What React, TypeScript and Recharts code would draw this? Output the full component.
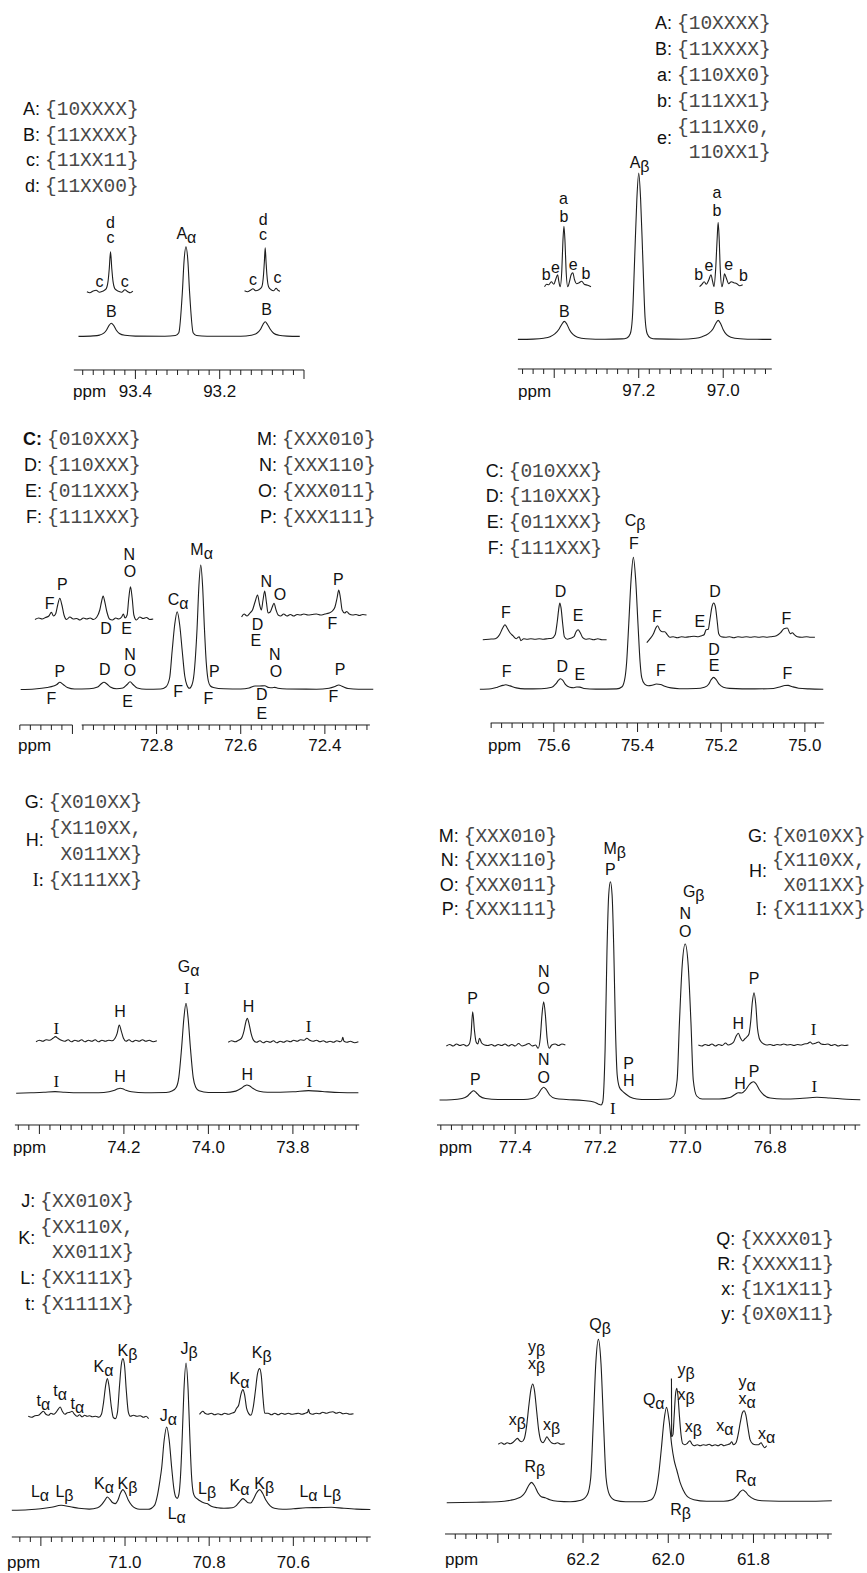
import React from 'react';
import { LineChart, Line, XAxis, YAxis, ReferenceDot, ReferenceLine } from 'recharts';

type Pt = [number, number];
type Lbl = [number, number, string];

const SANS = '"Liberation Sans", Arial, Helvetica, sans-serif';
const SERIF = '"Liberation Serif", "Times New Roman", serif';
const MONO = '"Liberation Mono", "Courier New", monospace';
const INK = '#1e1e1e';
const MONO_FS = 19.5;

// ================= Panel 1 : 93 ppm =================
const p1Main: Pt[] = [[93.535,0.3],[93.5,0.8],[93.485,1.6],[93.475,3.5],[93.468,7],[93.462,11.5],[93.457,13.4],[93.452,11.5],[93.446,7],[93.438,3.2],[93.425,1.4],[93.4,0.6],[93.33,0.4],[93.305,1.2],[93.297,4],[93.2885,45],[93.2845,76],[93.28,90],[93.2755,76],[93.2715,45],[93.263,4],[93.255,1.2],[93.23,0.5],[93.15,0.5],[93.125,1.5],[93.112,3.5],[93.103,7.5],[93.097,12.5],[93.092,15],[93.087,12.5],[93.08,7.5],[93.072,3.5],[93.06,1.5],[93.04,0.6],[93.01,0.3]];
const p1InsetL: Pt[] = [[93.515,45],[93.508,44],[93.5,45.8],[93.493,46.5],[93.486,44.5],[93.478,45.5],[93.47,47.5],[93.465,55],[93.462,68],[93.459,85],[93.456,68],[93.453,55],[93.448,47.5],[93.44,45.5],[93.432,44.5],[93.425,47],[93.418,45],[93.412,44],[93.406,45.5]];
const p1InsetR: Pt[] = [[93.141,46],[93.134,45],[93.127,46.5],[93.121,48],[93.115,46],[93.107,47],[93.1,50],[93.096,62],[93.094,75],[93.092,89],[93.09,75],[93.088,62],[93.084,50],[93.078,47],[93.072,46],[93.066,48.5],[93.062,46.5],[93.057,45.5]];
const p1Labels: Lbl[] = [[93.459,114,'d'],[93.459,99.5,'c'],[93.485,55,'c'],[93.425,55,'c'],[93.457,25,'B'],[93.279,102.7,'Aα'],[93.097,117,'d'],[93.097,101.7,'c'],[93.121,56.7,'c'],[93.063,59.4,'c'],[93.089,27.4,'B']];
const p1Majors = [93.4, 93.2, 93.0];
const p1TickLabels = [93.4, 93.2];

// ================= Panel 2 : 97 ppm =================
const p2Main: Pt[] = [[97.486,0.3],[97.45,0.6],[97.425,1.5],[97.41,3],[97.398,6],[97.388,11],[97.382,15.5],[97.376,18.3],[97.37,15.5],[97.364,10],[97.355,5],[97.345,2.5],[97.325,1],[97.28,0.5],[97.24,0.8],[97.228,1.8],[97.22,6],[97.215,22],[97.2095,83],[97.2045,140],[97.2,166.7],[97.1955,140],[97.1905,83],[97.185,22],[97.18,6],[97.172,1.8],[97.16,0.8],[97.1,0.5],[97.065,1.5],[97.05,3],[97.035,6],[97.024,11],[97.018,16],[97.012,19.3],[97.006,16],[97.0,10],[96.992,5],[96.982,2.5],[96.96,1],[96.92,0.4],[96.886,0.3]];
const p2InsetL: Pt[] = [[97.423,53],[97.418,55.5],[97.413,55],[97.407,58],[97.401,55.5],[97.396,61],[97.392,65],[97.389,58],[97.386,53],[97.382,70],[97.3795,98],[97.377,113.3],[97.3745,98],[97.372,70],[97.368,53],[97.364,58],[97.36,65],[97.356,67],[97.352,60],[97.347,56],[97.341,57],[97.335,58.5],[97.329,55.5],[97.321,54.5],[97.313,53]];
const p2InsetR: Pt[] = [[97.056,53],[97.051,55],[97.045,58],[97.04,55.5],[97.034,60],[97.029,65],[97.025,58],[97.022,53],[97.018,70],[97.0145,100],[97.012,117.3],[97.0095,100],[97.007,70],[97.003,53],[97.0,58],[96.997,66],[96.993,62],[96.987,56],[96.981,58],[96.975,57],[96.968,56],[96.961,54],[96.954,55]];
const p2Labels: Lbl[] = [[97.378,141,'a'],[97.377,122.7,'b'],[97.419,65,'b'],[97.397,71.7,'e'],[97.355,75,'e'],[97.325,66,'b'],[97.376,28.3,'B'],[97.198,177,'Aβ'],[97.015,147.3,'a'],[97.015,129.3,'b'],[97.058,65,'b'],[97.034,74,'e'],[96.987,75,'e'],[96.952,64,'b'],[97.009,30.7,'B']];
const p2Majors = [97.4, 97.2, 97.0];
const p2TickLabels = [97.2, 97.0];

// ================= Panel 3 : 72 ppm =================
const p3Main: Pt[] = [[73.123,0.5],[73.09,1],[73.06,2.5],[73.045,4],[73.037,5.5],[73.03,7.7],[73.022,5.5],[73.012,2.5],[72.995,1],[72.96,1.2],[72.94,3],[72.932,6],[72.925,7.7],[72.918,6],[72.91,3],[72.895,1.2],[72.88,2],[72.87,5.5],[72.863,8.3],[72.856,5.5],[72.846,2],[72.825,0.8],[72.79,1],[72.778,3],[72.769,12],[72.763,39],[72.757,65],[72.751,78.3],[72.745,65],[72.739,39],[72.733,14],[72.728,5],[72.722,1.7],[72.716,5],[72.711,16],[72.7037,62],[72.6994,104],[72.695,125],[72.6906,104],[72.6863,62],[72.682,28],[72.677,9],[72.672,4],[72.665,2.5],[72.64,1.2],[72.6,1],[72.58,2],[72.566,4],[72.555,4],[72.543,4.2],[72.533,2.5],[72.525,2.3],[72.519,2.6],[72.512,1.8],[72.49,1],[72.42,0.8],[72.39,1.8],[72.376,3.5],[72.367,5],[72.358,3.5],[72.345,1.5],[72.32,0.8],[72.285,0.8]];
const p3InsetL: Pt[] = [[73.089,70.5],[73.08,72],[73.072,71],[73.064,72.5],[73.056,74],[73.05,77.7],[73.045,74],[73.04,76],[73.035,85],[73.03,91.7],[73.025,85],[73.02,75],[73.014,70.5],[73.006,73],[72.998,71],[72.99,71.5],[72.982,70],[72.974,72],[72.966,71],[72.958,72],[72.95,70.5],[72.942,73],[72.935,80],[72.931,88],[72.927,94],[72.923,88],[72.918,78],[72.912,71],[72.905,70],[72.897,72],[72.89,71],[72.883,73],[72.879,76],[72.875,72],[72.87,75],[72.866,92],[72.862,103.3],[72.858,92],[72.854,75],[72.848,70],[72.84,73],[72.832,71.5],[72.824,72.5],[72.816,70.5],[72.808,71]];
const p3InsetR: Pt[] = [[72.598,73],[72.592,76],[72.585,74],[72.578,77],[72.572,80],[72.566,88],[72.56,95],[72.555,85],[72.551,80],[72.547,90],[72.543,99],[72.539,88],[72.535,77],[72.53,78],[72.525,83],[72.521,86.7],[72.516,80],[72.511,75],[72.505,74],[72.498,76],[72.49,74],[72.482,75.5],[72.474,74],[72.466,75.5],[72.458,75],[72.45,76],[72.44,75],[72.43,75.5],[72.42,76],[72.41,75],[72.4,76],[72.39,77],[72.382,79],[72.376,83],[72.371,92],[72.367,100],[72.363,92],[72.359,80],[72.353,77],[72.348,78.5],[72.342,76],[72.334,75],[72.326,75.5],[72.318,74.5],[72.31,75.5],[72.301,75]];
const p3Labels: Lbl[] = [[72.865,135,'N'],[72.863,118.3,'O'],[73.024,105,'P'],[73.054,86.7,'F'],[72.92,61.7,'D'],[72.871,61,'E'],[72.749,90,'Cα'],[72.693,140,'Mα'],[72.539,108.3,'N'],[72.507,95,'O'],[72.56,65.7,'D'],[72.564,49,'E'],[72.368,110.7,'P'],[72.382,66.7,'F'],[73.03,18.3,'P'],[73.05,-8.3,'F'],[72.923,20,'D'],[72.863,35,'N'],[72.863,19,'O'],[72.869,-11.7,'E'],[72.749,-1.7,'F'],[72.663,18.3,'P'],[72.677,-9,'F'],[72.519,35,'N'],[72.516,18.3,'O'],[72.55,-5,'D'],[72.55,-23.3,'E'],[72.364,20,'P'],[72.38,-6.7,'F']];
const p3Majors = [73.0, 72.8, 72.6, 72.4];
const p3TickLabels = [72.8, 72.6, 72.4];

// ================= Panel 4 : 75 ppm =================
const p4Main: Pt[] = [[75.777,0.5],[75.75,1],[75.735,2.5],[75.722,4.3],[75.715,5],[75.705,3.8],[75.69,1.8],[75.67,0.8],[75.63,1],[75.605,2.5],[75.595,6],[75.589,9.5],[75.584,11],[75.579,9.5],[75.572,5],[75.562,2.5],[75.552,2],[75.545,2.7],[75.538,2.6],[75.528,1.2],[75.5,0.6],[75.45,0.8],[75.437,3],[75.43,12],[75.426,28],[75.421,66],[75.4155,110],[75.41,132.3],[75.4045,110],[75.399,66],[75.394,28],[75.39,12],[75.383,5.5],[75.375,4],[75.365,4.5],[75.355,5.7],[75.345,5.2],[75.335,3.5],[75.32,1.8],[75.3,1],[75.26,1.2],[75.24,2.5],[75.23,5.5],[75.224,10],[75.218,12.3],[75.212,10],[75.205,5.5],[75.195,2.5],[75.18,1.3],[75.12,0.8],[75.075,1.2],[75.058,3],[75.048,4.2],[75.04,4.3],[75.03,3],[75.015,1.5],[74.99,0.8],[74.956,0.5]];
const p4InsetL: Pt[] = [[75.77,50],[75.755,50.5],[75.74,51],[75.73,55],[75.722,62],[75.717,65],[75.712,62],[75.705,57],[75.698,54],[75.69,51],[75.683,53],[75.679,49],[75.672,51],[75.664,50.5],[75.655,51],[75.645,50.5],[75.635,51],[75.625,50.5],[75.615,51],[75.605,51.5],[75.597,55],[75.592,68],[75.588,82],[75.586,86.7],[75.583,82],[75.579,66],[75.575,53],[75.568,50.5],[75.56,51.5],[75.552,53],[75.547,58],[75.542,60],[75.537,57],[75.531,52],[75.524,50.5],[75.515,51],[75.505,50],[75.495,51],[75.485,50],[75.474,50]];
const p4InsetR: Pt[] = [[75.378,47],[75.37,51],[75.362,56],[75.356,62],[75.352,64],[75.347,60],[75.341,58],[75.335,58],[75.329,55],[75.323,52.5],[75.315,53],[75.305,52],[75.295,53],[75.285,52.5],[75.275,53],[75.265,53.5],[75.255,53],[75.247,54],[75.241,55],[75.236,60],[75.231,60.5],[75.227,70],[75.222,83],[75.218,86.7],[75.214,83],[75.21,70],[75.206,56],[75.2,53],[75.19,52.5],[75.18,53],[75.17,52],[75.16,53],[75.15,52.5],[75.14,53],[75.13,52.5],[75.12,53],[75.11,52.5],[75.1,53],[75.09,52.5],[75.08,53],[75.068,54],[75.058,57],[75.05,61],[75.042,61.7],[75.035,56],[75.03,57],[75.025,55],[75.018,53],[75.008,52.5],[74.996,53],[74.986,52.5],[74.976,52.5]];
const p4Labels: Lbl[] = [[75.406,169,'Cβ'],[75.409,146,'F'],[75.715,76.7,'F'],[75.584,97.7,'D'],[75.542,74.3,'E'],[75.354,73.3,'F'],[75.251,68.3,'E'],[75.215,97.7,'D'],[75.044,71,'F'],[75.713,18.3,'F'],[75.58,23.3,'D'],[75.538,15,'E'],[75.344,19,'F'],[75.217,40,'D'],[75.217,24.3,'E'],[75.042,15.7,'F']];
const p4Majors = [75.6, 75.4, 75.2, 75.0];
const p4TickLabels = [75.6, 75.4, 75.2, 75.0];

// ================= Panel 5 : 74 ppm =================
const p5Main: Pt[] = [[74.455,0],[74.42,0.5],[74.39,1],[74.363,1.7],[74.34,1],[74.3,0.5],[74.26,0.5],[74.235,1.5],[74.222,3],[74.214,4.5],[74.209,5],[74.203,4.5],[74.195,3],[74.182,1.5],[74.15,0.6],[74.1,0.8],[74.085,2.5],[74.076,6],[74.07,16],[74.0635,45],[74.058,75],[74.053,90],[74.048,75],[74.0425,45],[74.036,16],[74.03,6],[74.022,2.5],[74.0,0.8],[73.96,0.8],[73.935,2.2],[73.922,5],[73.914,7.5],[73.909,8.3],[73.903,7.5],[73.895,5],[73.88,2],[73.86,1],[73.8,1.5],[73.763,2.7],[73.73,1.8],[73.69,0.8],[73.645,0.5]];
const p5InsetL: Pt[] = [[74.408,51.5],[74.4,53],[74.392,52],[74.384,53.5],[74.376,53],[74.368,55],[74.362,56.7],[74.356,55],[74.348,53],[74.34,52],[74.332,53.5],[74.324,51.5],[74.316,53],[74.308,52],[74.3,53.5],[74.292,51.5],[74.284,53],[74.276,52],[74.268,53.5],[74.26,51.5],[74.252,53],[74.244,52],[74.236,53],[74.228,52.5],[74.221,55],[74.216,60],[74.211,68.3],[74.206,62],[74.201,55],[74.195,52],[74.188,53.5],[74.18,51.5],[74.172,53],[74.164,52],[74.156,53.5],[74.148,52],[74.14,53],[74.131,51.5],[74.122,52.5]];
const p5InsetR: Pt[] = [[73.953,51],[73.945,52.5],[73.937,51.5],[73.929,53],[73.922,55],[73.916,62],[73.911,72],[73.908,75],[73.904,70],[73.899,60],[73.893,53],[73.886,51],[73.878,52.5],[73.87,50.5],[73.862,52],[73.854,51],[73.846,52.5],[73.838,50.5],[73.83,52],[73.822,51],[73.814,52.5],[73.806,51.5],[73.798,53],[73.79,52],[73.782,53.5],[73.774,53],[73.767,55],[73.76,53],[73.752,52],[73.744,53],[73.736,51.5],[73.728,52.5],[73.72,51],[73.712,52],[73.704,51],[73.696,52.5],[73.688,51.5],[73.684,53],[73.682,56],[73.679,52],[73.672,51],[73.664,52],[73.654,50.5],[73.645,51.5]];
const p5Labels: Lbl[] = [[74.047,126.7,'Gα'],[74.051,105,'I'],[74.36,65,'I'],[74.209,81.7,'H'],[73.905,86.7,'H'],[73.763,66.7,'I'],[74.36,11.7,'I'],[74.209,16.7,'H'],[73.908,18.3,'H'],[73.761,11.7,'I']];
const p5Majors = [74.4, 74.2, 74.0, 73.8];
const p5TickLabels = [74.2, 74.0, 73.8];

// ================= Panel 6 : 77 ppm =================
const p6Main: Pt[] = [[77.578,0],[77.55,0.3],[77.525,1.5],[77.512,4],[77.504,7.5],[77.498,9.3],[77.492,7.5],[77.484,4],[77.47,1.5],[77.44,0.5],[77.38,0.5],[77.36,1.5],[77.347,5],[77.338,11],[77.333,12.7],[77.328,11],[77.319,5],[77.305,1.5],[77.28,0.5],[77.24,-0.5],[77.215,-2],[77.205,-4],[77.198,-5],[77.194,-2],[77.1885,50],[77.184,150],[77.18,205],[77.176,218.3],[77.172,205],[77.168,150],[77.164,70],[77.16,25],[77.155,13],[77.148,9],[77.14,6],[77.13,3],[77.114,1],[77.09,0.5],[77.04,1],[77.027,4],[77.019,20],[77.0135,78],[77.007,135],[77.0,156],[76.993,135],[76.9865,78],[76.981,20],[76.973,4],[76.96,1],[76.92,1],[76.895,2.5],[76.883,5.5],[76.875,7.3],[76.867,7],[76.858,10],[76.85,15],[76.844,17.5],[76.839,18.3],[76.833,16],[76.825,10],[76.815,5],[76.8,2],[76.77,1],[76.73,1.5],[76.69,2.7],[76.66,2],[76.62,0.8],[76.588,0.3]];
const p6InsetL: Pt[] = [[77.562,54],[77.554,55.5],[77.546,54],[77.538,56],[77.53,54.5],[77.522,55.5],[77.514,54],[77.508,56],[77.504,65],[77.5,88.3],[77.496,70],[77.492,58],[77.488,56],[77.484,61.7],[77.479,57],[77.472,55],[77.464,54.5],[77.456,55.5],[77.448,54],[77.44,55.5],[77.432,54.5],[77.424,56],[77.416,54],[77.408,55.5],[77.4,54],[77.392,56.5],[77.384,54],[77.376,55],[77.368,56.5],[77.36,54],[77.352,55],[77.346,51.7],[77.341,62],[77.337,85],[77.333,98.3],[77.329,85],[77.325,62],[77.32,51.7],[77.314,55],[77.306,56],[77.298,54.5],[77.29,56],[77.282,55]];
const p6InsetR: Pt[] = [[76.969,55],[76.961,54],[76.953,55.5],[76.945,54.5],[76.937,56],[76.929,54],[76.921,55.5],[76.913,54.5],[76.905,57],[76.899,55],[76.892,56],[76.886,58],[76.88,64],[76.875,66.7],[76.87,62],[76.865,59],[76.86,61],[76.855,63],[76.85,66],[76.846,78],[76.842,98],[76.838,107.3],[76.834,96],[76.83,72],[76.826,62],[76.821,58],[76.815,56],[76.808,55],[76.8,55.5],[76.792,54.5],[76.784,55.5],[76.776,55],[76.768,56],[76.76,55],[76.752,55.5],[76.744,54.5],[76.736,55.5],[76.728,55],[76.72,56],[76.712,56.5],[76.706,58],[76.7,56],[76.692,57],[76.686,58],[76.68,56],[76.672,55.5],[76.664,56],[76.656,54.5],[76.648,55.5],[76.64,54],[76.632,55],[76.624,54.5],[76.616,55]];
const p6Labels: Lbl[] = [[77.166,251,'Mβ'],[77.176,230,'P'],[76.98,208,'Gβ'],[77.0,186,'N'],[77.0,168.3,'O'],[77.5,101.7,'P'],[77.333,128.3,'N'],[77.333,111.7,'O'],[76.838,121.7,'P'],[76.875,76.7,'H'],[76.698,70,'I'],[77.494,20.7,'P'],[77.333,40,'N'],[77.333,22.7,'O'],[77.133,36.7,'P'],[77.133,19.3,'H'],[77.17,-8.3,'I'],[76.871,16.7,'H'],[76.838,28.3,'P'],[76.696,13.3,'I']];
const p6Majors = [77.4, 77.2, 77.0, 76.8];
const p6TickLabels = [77.4, 77.2, 77.0, 76.8];

// ================= Panel 7 : 71 ppm =================
const p7Main: Pt[] = [[71.269,0],[71.23,0.5],[71.2,1.5],[71.175,3],[71.152,5],[71.13,3.5],[71.11,2],[71.085,1.2],[71.065,2.5],[71.055,6],[71.048,10],[71.042,13.3],[71.036,11],[71.029,7.5],[71.023,6.7],[71.017,10],[71.011,17],[71.005,20.7],[70.999,17],[70.992,10],[70.984,5],[70.975,2],[70.965,1],[70.945,1],[70.93,5],[70.923,15],[70.917,30],[70.913,42],[70.907,70],[70.901,83.3],[70.895,70],[70.889,42],[70.884,22],[70.879,13],[70.876,12],[70.872,16],[70.868,35],[70.864,74],[70.86,120],[70.855,147.3],[70.85,120],[70.846,74],[70.842,35],[70.838,18],[70.833,13],[70.829,11.7],[70.822,9.5],[70.813,7.5],[70.805,6.7],[70.795,4],[70.78,2.5],[70.765,2],[70.745,2.5],[70.735,5],[70.727,9],[70.72,11.7],[70.713,9.5],[70.707,7.5],[70.701,7.3],[70.695,11],[70.688,17],[70.68,20.7],[70.673,17],[70.665,10],[70.655,4.5],[70.645,2],[70.625,1],[70.6,1.5],[70.57,2.5],[70.54,2.7],[70.51,3],[70.48,2],[70.45,1.2],[70.417,0.8]];
const p7InsetL: Pt[] = [[71.23,94],[71.222,93],[71.214,94.5],[71.206,95],[71.2,97],[71.194,99],[71.188,96],[71.182,95],[71.176,97],[71.17,96],[71.164,98],[71.159,101],[71.154,103.3],[71.149,99],[71.143,96],[71.137,97.5],[71.131,98],[71.126,99],[71.12,96],[71.114,94],[71.108,95.5],[71.102,93.5],[71.096,95],[71.09,94],[71.084,94.5],[71.078,93.5],[71.07,94],[71.062,93],[71.056,96],[71.051,108],[71.046,125],[71.042,131.7],[71.038,124],[71.033,105],[71.028,93],[71.023,91.7],[71.018,98],[71.013,125],[71.009,145],[71.005,151.7],[71.001,144],[70.997,120],[70.992,98],[70.987,94],[70.98,95],[70.972,94],[70.964,94.5],[70.956,93],[70.95,94],[70.944,91.7]];
const p7InsetR: Pt[] = [[70.823,96],[70.819,98],[70.815,99],[70.81,97],[70.803,96],[70.795,97],[70.787,95.5],[70.779,96.5],[70.771,95.5],[70.763,97],[70.755,96],[70.747,97],[70.74,98],[70.735,102],[70.73,105],[70.724,117],[70.72,120.7],[70.716,116],[70.711,102],[70.706,96.7],[70.701,95],[70.695,104],[70.69,120],[70.685,137],[70.68,141.7],[70.676,134],[70.672,112],[70.668,97],[70.66,97],[70.652,95.5],[70.644,97],[70.636,95.5],[70.628,97],[70.62,96],[70.612,97],[70.604,96],[70.596,96.5],[70.588,97],[70.58,96],[70.572,97],[70.566,98],[70.564,101],[70.561,97],[70.554,96],[70.546,97],[70.538,96.5],[70.53,98],[70.522,97],[70.514,98],[70.506,98.5],[70.498,97],[70.49,98],[70.482,96.5],[70.474,97],[70.466,96],[70.457,96.5]];
const p7Labels: Lbl[] = [[71.194,110,'tα'],[71.154,120,'tα'],[71.113,106.7,'tα'],[71.051,144,'Kα'],[70.994,160,'Kβ'],[70.848,161.7,'Jβ'],[70.897,95,'Jα'],[70.728,131.7,'Kα'],[70.675,157.3,'Kβ'],[71.202,18.3,'Lα'],[71.144,18.3,'Lβ'],[71.05,26.7,'Kα'],[70.994,26.7,'Kβ'],[70.877,-3,'Lα'],[70.805,21.7,'Lβ'],[70.728,25,'Kα'],[70.669,26.7,'Kβ'],[70.564,18.3,'Lα'],[70.508,18.3,'Lβ']];
const p7Majors = [71.2, 71.0, 70.8, 70.6];
const p7TickLabels = [71.0, 70.8, 70.6];

// ================= Panel 8 : 62 ppm =================
const p8Main: Pt[] = [[62.52,0],[62.45,0.5],[62.4,1],[62.37,2.5],[62.356,4],[62.345,6],[62.335,11],[62.328,17],[62.321,20.3],[62.314,17],[62.306,10],[62.298,6],[62.289,5],[62.278,3],[62.26,1.5],[62.23,1],[62.205,2.5],[62.19,8],[62.182,25],[62.176,80],[62.17,140],[62.164,163.3],[62.158,140],[62.152,80],[62.146,25],[62.138,8],[62.125,2.5],[62.1,1],[62.06,1],[62.04,3],[62.03,10],[62.022,30],[62.016,55],[62.01,82],[62.004,95.3],[61.998,82],[61.992,58],[61.986,42],[61.98,32.7],[61.972,20],[61.965,12.7],[61.955,6],[61.94,3],[61.91,1.5],[61.87,1.5],[61.85,3],[61.838,7],[61.831,11],[61.825,12.7],[61.819,11],[61.811,7],[61.798,3.5],[61.78,2],[61.74,1.5],[61.68,1.5],[61.616,2]];
const p8InsetL: Pt[] = [[62.399,58.5],[62.392,60],[62.385,58.5],[62.378,60],[62.371,59],[62.364,60.5],[62.358,63],[62.354,64.3],[62.349,62],[62.344,61],[62.338,64],[62.333,75],[62.327,98],[62.322,114],[62.318,118.7],[62.314,112],[62.309,92],[62.304,72],[62.299,62],[62.294,60],[62.289,63],[62.285,66],[62.28,63],[62.274,60],[62.267,59],[62.26,60],[62.252,58.5],[62.243,59]];
const p8InsetR: Pt[] = [[61.992,66],[61.989,68],[61.986,88],[61.983,108],[61.98,114.3],[61.977,106],[61.974,88],[61.97,68],[61.966,59],[61.961,58],[61.956,59],[61.952,61],[61.949,62],[61.945,59],[61.939,57],[61.932,58],[61.925,57],[61.918,58],[61.911,57.5],[61.904,58.5],[61.897,57],[61.89,58],[61.883,57],[61.876,58.5],[61.869,57],[61.862,58],[61.855,59],[61.851,61],[61.847,58],[61.841,60],[61.836,68],[61.831,80],[61.826,90],[61.822,92],[61.818,88],[61.813,75],[61.808,63],[61.802,59],[61.795,58],[61.788,58],[61.782,60],[61.779,58],[61.774,55],[61.769,57]];
const p8InsetEdge: Pt[] = [[61.9925,124.3],[61.992,66]];
const p8Labels: Lbl[] = [[62.16,177.7,'Qβ'],[62.309,156,'yβ'],[62.309,139.3,'xβ'],[62.354,82.7,'xβ'],[62.274,77.7,'xβ'],[62.034,102.7,'Qα'],[61.958,132.7,'yβ'],[61.958,107.7,'xβ'],[61.941,76,'xβ'],[61.867,76.7,'xα'],[61.815,121,'yα'],[61.815,104.3,'xα'],[61.769,69.3,'xα'],[62.313,36,'Rβ'],[61.971,-7.3,'Rβ'],[61.818,26,'Rα']];
const p8Majors = [62.4, 62.2, 62.0, 61.8];
const p8TickLabels = [62.2, 62.0, 61.8];

// ================= Legends =================
const lgAB1 = [['A', '{10XXXX}'], ['B', '{11XXXX}'], ['c', '{11XX11}'], ['d', '{11XX00}']];
const lgAB2 = [['A', '{10XXXX}'], ['B', '{11XXXX}'], ['a', '{110XX0}'], ['b', '{111XX1}'], ['e', '{111XX0,', '110XX1}']];
const lgCF = [['C', '{010XXX}'], ['D', '{110XXX}'], ['E', '{011XXX}'], ['F', '{111XXX}']];
const lgMP = [['M', '{XXX010}'], ['N', '{XXX110}'], ['O', '{XXX011}'], ['P', '{XXX111}']];
const lgGI = [['G', '{X010XX}'], ['H', '{X110XX,', 'X011XX}'], ['I', '{X111XX}']];
const lgJt = [['J', '{XX010X}'], ['K', '{XX110X,', 'XX011X}'], ['L', '{XX111X}'], ['t', '{X1111X}']];
const lgQy = [['Q', '{XXXX01}'], ['R', '{XXXX11}'], ['x', '{1X1X11}'], ['y', '{0X0X11}']];

interface LegendCfg { x: number; top: number; step: number; rows: string[][]; bold?: boolean }
const LEGENDS: LegendCfg[] = [
  { x: 45, top: 115, step: 25.5, rows: lgAB1 },
  { x: 677, top: 29.3, step: 25.8, rows: lgAB2 },
  { x: 47, top: 445, step: 26.1, rows: lgCF, bold: true },
  { x: 282, top: 445, step: 26.1, rows: lgMP },
  { x: 508.7, top: 476.7, step: 25.6, rows: lgCF },
  { x: 48.7, top: 808.3, step: 26, rows: lgGI },
  { x: 463.7, top: 841.7, step: 24.5, rows: lgMP },
  { x: 772, top: 841.7, step: 24.5, rows: lgGI },
  { x: 40.3, top: 1206.7, step: 25.8, rows: lgJt },
  { x: 740.3, top: 1245, step: 25, rows: lgQy },
];

interface Panel {
  x0: number; axisY: number; hi: number; lo: number; k: number; gap: number; plotH: number;
  majors: number[]; labels: number[]; labOff: number; ppmX: number;
  series: Pt[][]; straight?: Pt[][]; peaks: Lbl[]; segs?: [number, number][];
}

const PANELS: Panel[] = [
  { x0: 74, axisY: 370, hi: 93.546, lo: 93.0, k: 421.5, gap: 33.3, plotH: 170, majors: p1Majors, labels: p1TickLabels, labOff: 27, ppmX: 73, series: [p1Main, p1InsetL, p1InsetR], peaks: p1Labels },
  { x0: 518.3, axisY: 369.3, hi: 97.486, lo: 96.885, k: 422.5, gap: 29.3, plotH: 220, majors: p2Majors, labels: p2TickLabels, labOff: 27.4, ppmX: 518, series: [p2Main, p2InsetL, p2InsetR], peaks: p2Labels },
  { x0: 20, axisY: 725, hi: 73.125, lo: 72.293, k: 420.75, gap: 35, plotH: 200, majors: p3Majors, labels: p3TickLabels, labOff: 26, ppmX: 18, series: [p3Main, p3InsetL, p3InsetR], peaks: p3Labels, segs: [[73.125, 73.0], [72.978, 72.293]] },
  { x0: 491, axisY: 723.3, hi: 75.751, lo: 74.954, k: 418.3, gap: 33.3, plotH: 220, majors: p4Majors, labels: p4TickLabels, labOff: 27.7, ppmX: 488, series: [p4Main, p4InsetL, p4InsetR], peaks: p4Labels },
  { x0: 15, axisY: 1125, hi: 74.458, lo: 73.643, k: 422.5, gap: 31.7, plotH: 180, majors: p5Majors, labels: p5TickLabels, labOff: 28.3, ppmX: 13, series: [p5Main, p5InsetL, p5InsetR], peaks: p5Labels },
  { x0: 436.7, axisY: 1125, hi: 77.584, lo: 76.588, k: 425, gap: 25, plotH: 290, majors: p6Majors, labels: p6TickLabels, labOff: 28.3, ppmX: 439, series: [p6Main, p6InsetL, p6InsetR], peaks: p6Labels },
  { x0: 11.7, axisY: 1536.7, hi: 71.269, lo: 70.416, k: 420.8, gap: 26.7, plotH: 200, majors: p7Majors, labels: p7TickLabels, labOff: 31, ppmX: 7, series: [p7Main, p7InsetL, p7InsetR], peaks: p7Labels },
  { x0: 445, axisY: 1534, hi: 62.524, lo: 61.616, k: 426, gap: 31.3, plotH: 230, majors: p8Majors, labels: p8TickLabels, labOff: 31, ppmX: 445, series: [p8Main, p8InsetL, p8InsetR], straight: [p8InsetEdge], peaks: p8Labels },
];

const PAD = 0.04;
const ML = 8, MR = 8, MT = 10, AXH = 44;

function makeTicks(lo: number, hi: number): number[] {
  const step = 0.025;
  const out: number[] = [];
  const start = Math.ceil(lo / step - 1e-6);
  const end = Math.floor(hi / step + 1e-6);
  for (let i = start; i <= end; i++) out.push(Math.round(i * step * 1000) / 1000);
  return out;
}

const toXY = (s: Pt[]) => s.map(([x, y]) => ({ x, y }));
const near = (v: number, arr: number[]) => arr.some((m) => Math.abs(m - v) < 1e-6);

function PeakText({ cx, cy, t }: { cx: number; cy: number; t: string }) {
  const serif = t === 'I';
  const m = t.match(/[αβ]/);
  const base = t.replace(/[αβ]/g, '');
  return (
    <text x={cx} y={cy} textAnchor="middle" dominantBaseline="central" fontFamily={serif ? SERIF : SANS} fontSize={serif ? 17 : 16} fill="#111">
      {base}
      {m && <tspan fontSize={16} dy={3.5}>{m[0]}</tspan>}
    </text>
  );
}

function SpectrumPanel({ p }: { p: Panel }) {
  const domLo = p.lo - PAD;
  const domHi = p.hi + PAD;
  const plotW = (domHi - domLo) * p.k;
  const left = p.x0 - PAD * p.k - ML;
  const top = p.axisY - p.plotH - MT;
  const ticks = makeTicks(p.lo, p.hi);
  const segs = p.segs ?? [[p.hi, p.lo]];
  const renderTick = (props: any) => {
    const { x, y, payload } = props;
    const v = payload.value as number;
    const major = near(v, p.majors);
    return (
      <g>
        <line x1={x} x2={x} y1={y} y2={y + (major ? 9 : 5)} stroke={INK} strokeWidth={1} />
        {near(v, p.labels) && (
          <text x={x} y={y + p.labOff} textAnchor="middle" fontFamily={SANS} fontSize={17} fill="#111">{v.toFixed(1)}</text>
        )}
      </g>
    );
  };
  return (
    <div style={{ position: 'absolute', left, top }}>
      <LineChart width={plotW + ML + MR} height={MT + p.plotH + AXH} margin={{ top: MT, right: MR, bottom: 0, left: ML }}>
        <XAxis type="number" dataKey="x" domain={[domLo, domHi]} reversed allowDataOverflow ticks={ticks} interval={0}
          tickSize={0} tickMargin={0} axisLine={false} tickLine={false} height={AXH} tick={renderTick} />
        <YAxis type="number" dataKey="y" hide domain={[-p.gap, p.plotH - p.gap]} allowDataOverflow />
        {segs.map(([a, b], i) => (
          <ReferenceLine key={'s' + i} segment={[{ x: a, y: -p.gap }, { x: b, y: -p.gap }]} stroke={INK} strokeWidth={1} ifOverflow="visible" />
        ))}
        {p.series.map((s, i) => (
          <Line key={'l' + i} data={toXY(s)} dataKey="y" type="monotone" dot={false} activeDot={false}
            stroke={INK} strokeWidth={1.1} isAnimationActive={false} />
        ))}
        {(p.straight ?? []).map((s, i) => (
          <Line key={'st' + i} data={toXY(s)} dataKey="y" type="linear" dot={false} activeDot={false}
            stroke={INK} strokeWidth={1.1} isAnimationActive={false} />
        ))}
        {p.peaks.map(([x, y, t], i) => (
          <ReferenceDot key={'p' + i} x={x} y={y} r={0} ifOverflow="visible"
            shape={(d: any) => <PeakText cx={d.cx} cy={d.cy} t={t} />} />
        ))}
      </LineChart>
    </div>
  );
}

function LegendBlock({ l }: { l: LegendCfg }) {
  const items: React.ReactNode[] = [];
  let y = l.top;
  l.rows.forEach((row, i) => {
    const [lab, ...lines] = row;
    const labY = lines.length > 1 ? y + l.step * 0.45 : y;
    items.push(
      <text key={'k' + i} x={l.x - 5} y={labY} textAnchor="end" fontFamily={lab === 'I' ? SERIF : SANS}
        fontSize={18} fontWeight={l.bold && i === 0 ? 700 : 400} fill="#111">{lab}:</text>
    );
    lines.forEach((ln, j) => {
      items.push(
        <text key={'s' + i + '_' + j} x={l.x + (j > 0 ? MONO_FS * 0.6 : 0)} y={y} fontFamily={MONO} fontSize={MONO_FS} fill="#484848">{ln}</text>
      );
      y += l.step;
    });
  });
  return <g>{items}</g>;
}

export default function App() {
  return (
    <div style={{ position: 'absolute', left: 0, top: 0, width: 867, height: 1573, overflow: 'hidden', background: '#fff' }}>
      {PANELS.map((p, i) => <SpectrumPanel key={i} p={p} />)}
      <svg width={867} height={1573} style={{ position: 'absolute', left: 0, top: 0, pointerEvents: 'none' }}>
        {LEGENDS.map((l, i) => <LegendBlock key={i} l={l} />)}
        {PANELS.map((p, i) => (
          <text key={'ppm' + i} x={p.ppmX} y={p.axisY + p.labOff} fontFamily={SANS} fontSize={17} fill="#111">ppm</text>
        ))}
      </svg>
    </div>
  );
}
